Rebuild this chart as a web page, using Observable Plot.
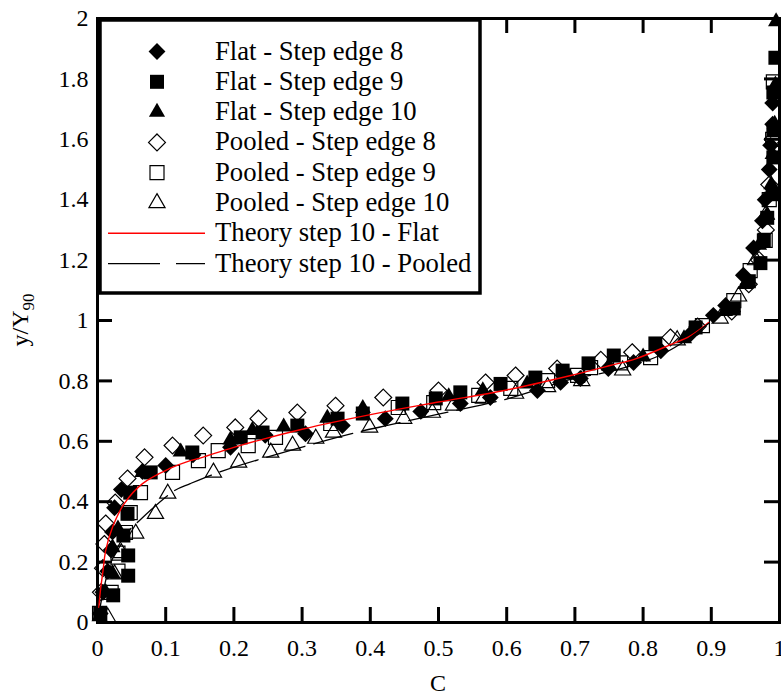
<!DOCTYPE html>
<html><head><meta charset="utf-8">
<script src="https://cdn.jsdelivr.net/npm/d3@7"></script>
<script src="https://cdn.jsdelivr.net/npm/@observablehq/plot@0.6"></script>
<style>body{margin:0;background:#fff;} #chart{width:781px;height:695px;}</style>
</head><body><div id="chart"></div>
<script>
// ---- data (C, y/Y90) ----
const flat8 = [[0.004,0.03],[0.008,0.10],[0.015,0.17],[0.02,0.24],[0.022,0.30],[0.025,0.38],[0.035,0.44],[0.066,0.50],[0.10,0.52],[0.14,0.555],[0.195,0.58],[0.246,0.62],[0.305,0.625],[0.359,0.652],[0.422,0.675],[0.474,0.699],[0.532,0.725],[0.576,0.745],[0.645,0.768],[0.679,0.795],[0.708,0.808],[0.749,0.841],[0.786,0.861],[0.826,0.90],[0.87,0.957],[0.903,1.017],[0.921,1.05],[0.947,1.15],[0.962,1.24],[0.975,1.33],[0.979,1.40],[0.985,1.50],[0.987,1.58],[0.99,1.65],[0.99,1.72]];
const flat9 = [[0.004,0.03],[0.023,0.09],[0.045,0.155],[0.045,0.222],[0.038,0.288],[0.044,0.36],[0.048,0.43],[0.078,0.497],[0.139,0.563],[0.21,0.613],[0.242,0.629],[0.293,0.652],[0.352,0.675],[0.389,0.692],[0.447,0.725],[0.496,0.742],[0.532,0.762],[0.591,0.79],[0.642,0.811],[0.682,0.834],[0.72,0.858],[0.757,0.884],[0.818,0.924],[0.877,0.977],[0.933,1.04],[0.955,1.13],[0.972,1.19],[0.977,1.265],[0.982,1.34],[0.99,1.42],[0.991,1.54],[0.991,1.63],[0.991,1.755],[0.994,1.87]];
const flat10 = [[0.003,0.02],[0.012,0.10],[0.022,0.162],[0.022,0.248],[0.03,0.31],[0.066,0.497],[0.122,0.565],[0.195,0.605],[0.227,0.636],[0.273,0.648],[0.337,0.677],[0.389,0.709],[0.515,0.748],[0.565,0.768],[0.63,0.79],[0.69,0.82],[0.75,0.85],[0.80,0.88],[0.86,0.94],[0.92,1.03],[0.95,1.12],[0.97,1.25],[0.982,1.35],[0.988,1.45],[0.99,1.55],[0.993,1.65],[0.994,1.78],[0.995,1.99]];
const pooled8 = [[0.005,0.10],[0.008,0.18],[0.01,0.26],[0.012,0.328],[0.026,0.397],[0.044,0.477],[0.069,0.547],[0.11,0.586],[0.155,0.619],[0.202,0.646],[0.236,0.675],[0.293,0.695],[0.349,0.718],[0.419,0.745],[0.5,0.768],[0.569,0.795],[0.613,0.818],[0.674,0.841],[0.738,0.87],[0.784,0.895],[0.84,0.944],[0.88,0.98],[0.93,1.03],[0.955,1.12],[0.97,1.2],[0.98,1.3],[0.985,1.45],[0.99,1.6]];
const pooled9 = [[0.003,0.03],[0.02,0.10],[0.03,0.17],[0.03,0.23],[0.041,0.298],[0.048,0.364],[0.063,0.43],[0.11,0.497],[0.148,0.536],[0.177,0.569],[0.221,0.586],[0.261,0.613],[0.342,0.659],[0.441,0.712],[0.493,0.728],[0.559,0.752],[0.606,0.775],[0.66,0.801],[0.704,0.818],[0.723,0.844],[0.767,0.86],[0.811,0.877],[0.887,0.983],[0.933,1.066],[0.957,1.165],[0.979,1.265],[0.985,1.4],[0.99,1.6],[0.991,1.79]];
const pooled10 = [[0.015,0.017],[0.025,0.16],[0.035,0.23],[0.056,0.295],[0.085,0.36],[0.103,0.427],[0.17,0.497],[0.207,0.53],[0.254,0.563],[0.286,0.586],[0.32,0.609],[0.346,0.629],[0.399,0.646],[0.449,0.675],[0.491,0.695],[0.522,0.719],[0.566,0.742],[0.613,0.758],[0.66,0.78],[0.71,0.80],[0.77,0.835],[0.85,0.935],[0.913,1.007],[0.94,1.08],[0.965,1.2],[0.98,1.35]];
const theoryFlat = [[0.002,0.05],[0.004,0.10],[0.008,0.17],[0.012,0.238],[0.022,0.315],[0.039,0.393],[0.066,0.46],[0.106,0.51],[0.136,0.536],[0.154,0.547],[0.2,0.58],[0.3,0.64],[0.415,0.695],[0.5,0.73],[0.6,0.77],[0.694,0.818],[0.75,0.85],[0.79,0.874],[0.84,0.92],[0.87,0.95],[0.896,0.993]];
const theoryPooled = [[0.003,0.04],[0.01,0.12],[0.02,0.2],[0.039,0.285],[0.0616,0.338],[0.113,0.437],[0.136,0.46],[0.185,0.503],[0.283,0.57],[0.381,0.63],[0.43,0.655],[0.5,0.69],[0.6,0.74],[0.694,0.805],[0.757,0.834],[0.82,0.88],[0.86,0.93],[0.896,0.99]];

const seriesNames = ["Flat - Step edge 8","Flat - Step edge 9","Flat - Step edge 10","Pooled - Step edge 8","Pooled - Step edge 9","Pooled - Step edge 10","Theory step 10 - Flat","Theory step 10 - Pooled"];
const xTicks = [0,0.1,0.2,0.3,0.4,0.5,0.6,0.7,0.8,0.9,1];
const yTicks = [0,0.2,0.4,0.6,0.8,1,1.2,1.4,1.6,1.8,2];
const xLabel = "C";

// ---- styles ----
const W = 781, H = 695, mL = 97, mR = 2, mT = 18, mB = 73;
const innerW = W - mL - mR, innerH = H - mT - mB, TICK = 15;
const FONT = "'Liberation Serif','Times New Roman',serif";
const fmt = d => String(+d.toFixed(1));
const rows = a => a.map(([C, y]) => ({C, y}));
const markerStyles = [
  {symbol: "diamond2", r: 7.6, fill: "#000", stroke: "none"},
  {symbol: "square", r: 7.9, fill: "#000", stroke: "none"},
  {symbol: "triangle", r: 6.0, fill: "#000", stroke: "none"},
  {symbol: "diamond2", r: 7.6, fill: "none", stroke: "#000", strokeWidth: 1.2},
  {symbol: "square", r: 7.9, fill: "none", stroke: "#000", strokeWidth: 1.2},
  {symbol: "triangle", r: 6.0, fill: "none", stroke: "#000", strokeWidth: 1.2}
];
const seriesData = [flat8, flat9, flat10, pooled8, pooled9, pooled10];

const chart = Plot.plot({
  width: W, height: H, marginLeft: mL, marginRight: mR, marginTop: mT, marginBottom: mB,
  style: {fontFamily: FONT, fontSize: "24px", color: "#000", background: "#fff"},
  x: {domain: [0, 1]},
  y: {domain: [0, 2]},
  marks: [
    Plot.axisX(xTicks, {tickSize: 0, tickPadding: 16, tickFormat: fmt, fontSize: 24, label: null}),
    Plot.axisY(yTicks, {tickSize: 0, tickPadding: 9, tickFormat: fmt, fontSize: 24, label: null}),
    Plot.tickX(xTicks, {x: d => d, insetTop: innerH - TICK, strokeWidth: 3, stroke: "#000"}),
    Plot.tickX(xTicks, {x: d => d, insetBottom: innerH - TICK, strokeWidth: 3, stroke: "#000"}),
    Plot.tickY(yTicks, {y: d => d, insetRight: innerW - TICK, strokeWidth: 3, stroke: "#000"}),
    Plot.tickY(yTicks, {y: d => d, insetLeft: innerW - TICK, strokeWidth: 3, stroke: "#000"}),
    Plot.frame({stroke: "#000", strokeWidth: 3}),
    ...seriesData.map((s, i) => Plot.dot(rows(s), {x: "C", y: "y", ...markerStyles[i]})),
    Plot.line(rows(theoryFlat), {x: "C", y: "y", stroke: "red", strokeWidth: 1.4, curve: "catmull-rom"}),
    Plot.line(rows(theoryPooled), {x: "C", y: "y", stroke: "#000", strokeWidth: 1.3, strokeDasharray: "40,9", curve: "catmull-rom"})
  ]
});
document.getElementById("chart").appendChild(chart);

// ---- axis titles ----
const svg = d3.select(chart);
svg.append("text").attr("x", mL + innerW / 2).attr("y", 691).attr("text-anchor", "middle")
  .attr("font-family", FONT).attr("font-size", 24).attr("fill", "#000").text(xLabel);
const yl = svg.append("text").attr("transform", `translate(28,${mT + innerH / 2}) rotate(-90)`)
  .attr("text-anchor", "middle").attr("font-family", FONT).attr("font-size", 24).attr("fill", "#000");
yl.append("tspan").text("y/Y");
yl.append("tspan").attr("font-size", 17).attr("dy", 6).text("90");

// ---- legend ----
const leg = svg.append("g");
leg.append("rect").attr("x", 100).attr("y", 20).attr("width", 380).attr("height", 273)
  .attr("fill", "#fff").attr("stroke", "#000").attr("stroke-width", 3.5);
seriesNames.forEach((name, i) => {
  const cy = 51.5 + i * 30.3;
  if (i < 6) {
    const st = markerStyles[i];
    const sym = {diamond2: d3.symbolDiamond2, square: d3.symbolSquare, triangle: d3.symbolTriangle}[st.symbol];
    leg.append("path").attr("transform", `translate(157,${cy})`)
      .attr("d", d3.symbol(sym, Math.PI * st.r * st.r)())
      .attr("fill", st.fill).attr("stroke", st.stroke).attr("stroke-width", st.strokeWidth || 0);
  } else if (i === 6) {
    leg.append("line").attr("x1", 108).attr("x2", 205).attr("y1", cy).attr("y2", cy).attr("stroke", "red").attr("stroke-width", 1.4);
  } else {
    leg.append("line").attr("x1", 108).attr("x2", 205).attr("y1", cy).attr("y2", cy).attr("stroke", "#000").attr("stroke-width", 1.3).attr("stroke-dasharray", "52,16");
  }
  leg.append("text").attr("x", 215).attr("y", cy + 8).attr("text-anchor", "start")
    .attr("font-family", FONT).attr("font-size", 26.7).attr("fill", "#000").text(name);
});
</script>
</body></html>
